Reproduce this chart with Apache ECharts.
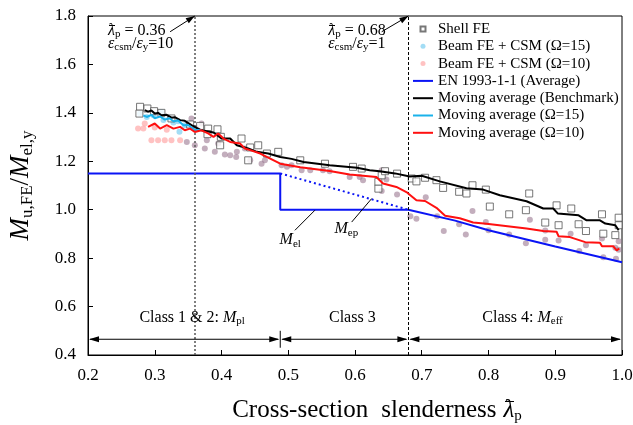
<!DOCTYPE html>
<html><head><meta charset="utf-8">
<script src="https://cdn.jsdelivr.net/npm/echarts@6/dist/echarts.min.js"></script>
<style>html,body{margin:0;padding:0;background:#fff}#c{width:633px;height:425px}</style>
</head><body><div id="c"></div>
<script>
// ---------- data ----------
const xTicks = [0.2,0.3,0.4,0.5,0.6,0.7,0.8,0.9,1.0];
const yTicks = [0.4,0.6,0.8,1.0,1.2,1.4,1.6,1.8];

const shellFE = [[0.278,1.425],[0.277,1.397],[0.289,1.418],[0.299,1.407],[0.31,1.40],[0.325,1.377],[0.353,1.352],
 [0.368,1.346],[0.38,1.335],[0.394,1.332],[0.379,1.312],[0.399,1.301],[0.398,1.266],[0.43,1.294],[0.44,1.204],
 [0.455,1.266],[0.443,1.257],[0.468,1.232],[0.485,1.239],[0.518,1.204],[0.555,1.19],[0.597,1.177],[0.61,1.17],
 [0.635,1.115],[0.635,1.087],[0.64,1.142],[0.645,1.159],[0.663,1.149],[0.685,1.129],[0.692,1.117],[0.705,1.132],
 [0.722,1.122],[0.732,1.09],[0.756,1.074],[0.767,1.067],[0.776,1.101],[0.796,1.083],[0.802,1.013],[0.831,0.981],
 [0.856,0.998],[0.861,1.067],[0.885,0.947],[0.902,1.018],[0.905,0.936],[0.924,1.005],[0.935,0.94],[0.946,0.912],
 [0.97,0.981],[0.972,0.901],[0.99,0.895],[0.995,0.967],[0.995,0.936]];

// Beam FE + CSM points where Ω=15 and Ω=10 coincide
const beamShared = [[0.348,1.28],[0.355,1.377],[0.36,1.266],[0.363,1.335],[0.37,1.356],[0.375,1.253],[0.378,1.287],
 [0.39,1.239],[0.395,1.273],[0.405,1.228],[0.413,1.225],[0.422,1.218],[0.423,1.239],[0.435,1.253],[0.443,1.204],
 [0.46,1.19],[0.465,1.204],[0.49,1.184],[0.498,1.177],[0.505,1.184],[0.52,1.163],[0.533,1.163],[0.552,1.163],
 [0.562,1.159],[0.592,1.135],[0.607,1.135],[0.612,1.122],[0.64,1.163],[0.64,1.077],[0.647,1.125],[0.663,1.063],
 [0.683,0.973],[0.692,0.963],[0.706,1.051],[0.723,0.973],[0.733,0.912],[0.756,0.94],[0.766,0.898],[0.776,0.995],
 [0.796,0.949],[0.80,0.915],[0.831,0.898],[0.856,0.862],[0.862,0.959],[0.885,0.914],[0.885,0.876],[0.905,0.873],
 [0.923,0.901],[0.936,0.829],[0.946,0.853],[0.97,0.881],[0.972,0.804],[0.99,0.843],[0.991,0.798],[0.995,0.87],[0.995,0.835]];
const beam15 = [[0.278,1.397],[0.288,1.383],[0.298,1.39],[0.31,1.404],[0.313,1.37],[0.322,1.38],[0.328,1.36],
 [0.335,1.365],[0.337,1.322],[0.345,1.349]];
const beam10 = [[0.275,1.335],[0.283,1.335],[0.285,1.356],[0.295,1.287],[0.305,1.287],[0.315,1.287],[0.325,1.287],
 [0.338,1.287],[0.30,1.34],[0.318,1.33]];

const enAvg = [[0.2,1.15],[0.488,1.15],[0.488,1.0],[0.68,1.0],[0.75,0.955],[0.8,0.915],[0.9,0.848],[1.0,0.783]];
const enMep = [[0.488,1.15],[0.68,1.0]];

const maBench = [[0.285,1.411],[0.29,1.405],[0.295,1.41],[0.30,1.397],[0.305,1.40],[0.31,1.39],[0.318,1.392],[0.325,1.38],
 [0.33,1.382],[0.338,1.37],[0.345,1.367],[0.355,1.349],[0.37,1.328],[0.388,1.319],[0.40,1.294],[0.413,1.294],
 [0.423,1.266],[0.44,1.253],[0.453,1.239],[0.47,1.232],[0.488,1.218],[0.505,1.21],[0.523,1.197],[0.562,1.184],
 [0.603,1.173],[0.622,1.163],[0.637,1.159],[0.66,1.15],[0.682,1.137],[0.70,1.14],[0.727,1.117],[0.767,1.089],
 [0.792,1.083],[0.817,1.06],[0.857,1.035],[0.882,1.005],[0.897,1.005],[0.904,0.984],[0.935,0.977],[0.947,0.956],
 [0.967,0.956],[0.975,0.943],[0.99,0.936],[0.995,0.915]];
const ma15 = [[0.283,1.39],[0.288,1.383],[0.295,1.392],[0.30,1.378],[0.308,1.385],[0.315,1.372],[0.322,1.378],
 [0.328,1.365],[0.335,1.368],[0.343,1.349],[0.35,1.35],[0.36,1.33],[0.37,1.328]];
const ma10 = [[0.29,1.342],[0.30,1.356],[0.308,1.335],[0.318,1.349],[0.328,1.335],[0.338,1.342],[0.345,1.328],
 [0.353,1.335],[0.36,1.321],[0.37,1.328],[0.38,1.315],[0.388,1.301],[0.395,1.315],[0.403,1.294],[0.413,1.28],
 [0.428,1.273],[0.435,1.253],[0.443,1.246],[0.458,1.232],[0.473,1.211],[0.488,1.19],[0.518,1.175],[0.562,1.16],
 [0.592,1.145],[0.632,1.135],[0.642,1.108],[0.662,1.094],[0.677,1.073],[0.692,1.039],[0.705,1.036],[0.722,1.008],
 [0.735,0.975],[0.757,0.965],[0.777,0.947],[0.797,0.942],[0.857,0.922],[0.882,0.912],[0.902,0.909],[0.905,0.89],
 [0.922,0.887],[0.945,0.866],[0.967,0.864],[0.97,0.849],[0.987,0.849],[0.992,0.832],[0.996,0.84]];

const limits = [0.36, 0.68];          // dashed reference lines
const classBounds = [0.2, 0.488, 0.68, 1.0];

// ---------- chart ----------
const SERIF = '"Liberation Serif","Times New Roman",serif';
const chart = echarts.init(document.getElementById('c'), null, {renderer:'canvas'});

const C_BLUE = '#0a14f5', C_RED = '#ff1010', C_CYAN = '#1ab2ea';
const C_PINK = 'rgba(255,160,160,0.8)', C_LBLUE = 'rgba(120,205,240,0.85)', C_MIX = 'rgba(155,120,145,0.75)';

// overline image used as token background for the "λ̄" symbol
function overline(frac, th){
  const c=document.createElement('canvas'); c.width=20; c.height=100;
  const x=c.getContext('2d'); x.fillStyle='#000'; x.fillRect(3,Math.round(frac*100),17,th); return c;
}
const OL = overline(0.14,5), OLs = overline(0.14,7);
const LINE_ICON = 'path://M0,0H20V2H0Z';
const SQ_ICON = 'path://M0,0H5V5H0Z';

const option = {
  animation:false,
  backgroundColor:'#fff',
  grid:{left:88, right:11, top:16, bottom:70, outerBoundsMode:'none', containLabel:false,
    show:true, borderColor:'#000', borderWidth:1, backgroundColor:'transparent'},
  xAxis:{type:'value', min:xTicks[0], max:xTicks[xTicks.length-1], interval:0.1,
    axisLine:{lineStyle:{color:'#000',width:1}}, axisTick:{inside:true,length:5,lineStyle:{color:'#000'}},
    splitLine:{show:false},
    axisLabel:{fontFamily:SERIF,fontSize:17,color:'#000',margin:12,formatter:v=>v.toFixed(1)},
    name:'{n|Cross-section}{w|slenderness}{i|λ}{s|p}', nameLocation:'middle', nameGap:41,
    nameTextStyle:{rich:{
      n:{fontFamily:SERIF,fontSize:25,color:'#000',padding:[0,0,0,44]},
      w:{fontFamily:SERIF,fontSize:25,color:'#000',padding:[0,7,0,13]},
      i:{fontFamily:SERIF,fontSize:25,fontStyle:'italic',color:'#000',backgroundColor:{image:OL}},
      s:{fontFamily:SERIF,fontSize:15,color:'#000',padding:[13,0,0,0]}}}
  },
  yAxis:{type:'value', min:yTicks[0], max:yTicks[yTicks.length-1], interval:0.2,
    axisLine:{show:true,lineStyle:{color:'#000',width:1}}, axisTick:{show:true,inside:true,length:5,lineStyle:{color:'#000'}},
    splitLine:{show:false},
    axisLabel:{fontFamily:SERIF,fontSize:17,color:'#000',margin:12,formatter:v=>v.toFixed(1)},
    name:'{i|M}{s|u,FE}{n|/}{i|M}{s|el,y}', nameLocation:'middle', nameGap:52, nameRotate:90,
    nameTextStyle:{rich:{
      n:{fontFamily:SERIF,fontSize:27,color:'#000'},
      i:{fontFamily:SERIF,fontSize:27,fontStyle:'italic',color:'#000'},
      s:{fontFamily:SERIF,fontSize:17,color:'#000',padding:[14,0,0,0]}}}
  },
  legend:{orient:'vertical', left:413, top:21, itemWidth:20, itemHeight:5, itemGap:1.3,
    backgroundColor:'#fff', padding:0,
    textStyle:{fontFamily:SERIF,fontSize:15,color:'#000',lineHeight:16},
    data:[{name:'Shell FE',icon:SQ_ICON},'Beam FE + CSM (Ω=15)','Beam FE + CSM (Ω=10)',
          {name:'EN 1993-1-1 (Average)',icon:LINE_ICON},
          {name:'Moving average (Benchmark)',icon:LINE_ICON},
          {name:'Moving average (Ω=15)',icon:LINE_ICON},
          {name:'Moving average (Ω=10)',icon:LINE_ICON}]},
  series:[
    {name:'Beam FE + CSM (Ω=10)', type:'scatter', data:beam10, symbol:'circle', symbolSize:6,
      itemStyle:{color:C_PINK}, z:2},
    {name:'Beam FE + CSM (Ω=15)', type:'scatter', data:beam15, symbol:'circle', symbolSize:6,
      itemStyle:{color:C_LBLUE}, z:2},
    {name:'Beam FE + CSM (shared)', type:'scatter', data:beamShared, symbol:'circle', symbolSize:6,
      itemStyle:{color:C_MIX}, z:2},
    {name:'Shell FE', type:'scatter', data:shellFE, symbol:'rect', symbolSize:7,
      itemStyle:{color:'#fff', borderColor:'#555', borderWidth:1}, z:3},
    {name:'EN 1993-1-1 (Average)', type:'line', data:enAvg, symbol:'none',
      lineStyle:{color:C_BLUE,width:2}, itemStyle:{color:C_BLUE}, z:4},
    {name:'EN Mep', type:'line', data:enMep, symbol:'none',
      lineStyle:{color:C_BLUE,width:2,type:[2,3]}, z:4},
    {name:'Moving average (Benchmark)', type:'line', data:maBench, symbol:'none',
      lineStyle:{color:'#000',width:2}, itemStyle:{color:'#000'}, z:5},
    {name:'Moving average (Ω=15)', type:'line', data:ma15, symbol:'none',
      lineStyle:{color:C_CYAN,width:2}, itemStyle:{color:C_CYAN}, z:5},
    {name:'Moving average (Ω=10)', type:'line', data:ma10, symbol:'none',
      lineStyle:{color:C_RED,width:2}, itemStyle:{color:C_RED}, z:6},
    {name:'limits', type:'line', data:[], symbol:'none', silent:true,
      markLine:{symbol:'none', silent:true, label:{show:false},
        data:[{xAxis:limits[0], lineStyle:{color:'#555',width:1.5,type:[2,2]}},
              {xAxis:limits[1], lineStyle:{color:'#000',width:1,type:[3,2]}}]}, z:1}
  ]
};
chart.setOption(option);

// ---------- annotations (positioned in data coordinates) ----------
const P = (x,y)=>chart.convertToPixel({gridIndex:0},[x,y]);
const g = [];
function arrowHead(tip, from, len, wid){
  const dx=tip[0]-from[0], dy=tip[1]-from[1], L=Math.hypot(dx,dy), ux=dx/L, uy=dy/L;
  const bx=tip[0]-ux*len, by=tip[1]-uy*len;
  return {type:'polygon', shape:{points:[tip,[bx-uy*wid,by+ux*wid],[bx+uy*wid,by-ux*wid]]}, style:{fill:'#000'}, z:20};
}
function arrow(a,b){ // single-headed a -> b
  const A=P(a[0],a[1]), B=P(b[0],b[1]);
  g.push({type:'line', shape:{x1:A[0],y1:A[1],x2:B[0],y2:B[1]}, style:{stroke:'#000',lineWidth:1}, z:20});
  g.push(arrowHead(B,A,9,3));
}
function dblArrow(x1,x2,y){
  const A=P(x1,y), B=P(x2,y);
  g.push({type:'line', shape:{x1:A[0]+2,y1:A[1],x2:B[0]-2,y2:B[1]}, style:{stroke:'#000',lineWidth:1}, z:20});
  g.push(arrowHead([A[0]+1,A[1]],B,10,3));
  g.push(arrowHead([B[0]-1,B[1]],A,10,3));
}
function text(x,y,rich,str,align){
  const p=P(x,y);
  g.push({type:'text', x:p[0], y:p[1], z:21,
    style:{text:str, align:align||'center', verticalAlign:'middle', rich:rich, fontFamily:SERIF}});
}
const R = {
  n:{fontFamily:SERIF,fontSize:16,color:'#000'},
  i:{fontFamily:SERIF,fontSize:16,fontStyle:'italic',color:'#000'},
  L:{fontFamily:SERIF,fontSize:16,fontStyle:'italic',color:'#000',backgroundColor:{image:OLs}},
  s:{fontFamily:SERIF,fontSize:11,color:'#000',padding:[8,0,0,0]}
};
// slenderness limit callouts
arrow([0.323,1.735],[limits[0],1.8]);
arrow([0.64,1.735],[limits[1],1.8]);
text(0.23,1.74,R,'{L|λ}{s|p}{n| = 0.36}','left');
text(0.23,1.686,R,'{i|ε}{s|csm}{n|/}{i|ε}{s|y}{n|=10}','left');
text(0.56,1.74,R,'{L|λ}{s|p}{n| = 0.68}','left');
text(0.56,1.686,R,'{i|ε}{s|csm}{n|/}{i|ε}{s|y}{n|=1}','left');
// Mel / Mep leaders
(function(){
  const a=P(0.510,0.915), b=P(0.540,0.998);
  g.push({type:'line', shape:{x1:a[0],y1:a[1],x2:b[0],y2:b[1]}, style:{stroke:'#000',lineWidth:1}, z:20});
  const c=P(0.595,0.949), d=P(0.625,1.046);
  g.push({type:'line', shape:{x1:c[0],y1:c[1],x2:d[0],y2:d[1]}, style:{stroke:'#000',lineWidth:1}, z:20});
})();
text(0.503,0.875,R,'{i|M}{s|el}');
text(0.587,0.921,R,'{i|M}{s|ep}');
// section classes
const yArr = 0.465;
dblArrow(classBounds[0],classBounds[1],yArr);
dblArrow(classBounds[1],classBounds[2],yArr);
dblArrow(classBounds[2],classBounds[3],yArr);
(function(){const a=P(classBounds[1],yArr+0.035), b=P(classBounds[1],yArr-0.035);
  g.push({type:'line', shape:{x1:a[0],y1:a[1],x2:b[0],y2:b[1]}, style:{stroke:'#000',lineWidth:1}, z:20});})();
text(0.356,0.555,R,'{n|Class 1 & 2: }{i|M}{s|pl}');
text(0.596,0.555,R,'{n|Class 3}');
text(0.851,0.555,R,'{n|Class 4: }{i|M}{s|eff}');

chart.setOption({graphic:g});
</script>
</body></html>
